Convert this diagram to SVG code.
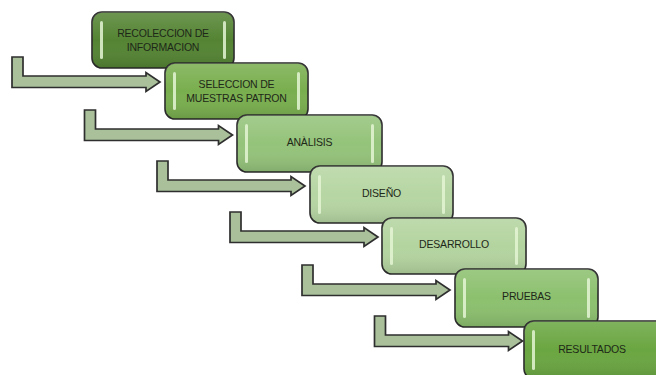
<svg xmlns="http://www.w3.org/2000/svg" width="656" height="375" viewBox="0 0 656 375">
<defs>
<linearGradient id="gloss" x1="0" y1="0" x2="0" y2="1">
<stop offset="0" stop-color="#ffffff" stop-opacity="0.15"/>
<stop offset="0.5" stop-color="#ffffff" stop-opacity="0"/>
<stop offset="1" stop-color="#000000" stop-opacity="0.12"/>
</linearGradient>
<path id="arrow" d="M12,57 H23 V76 H146 V72.5 L160,82 L146,91.5 V87.5 H12 Z"/>
</defs>
<style>
.arr{fill:#a9c09b;stroke:#2e2e2e;stroke-width:1.7;stroke-linejoin:miter}
.box{stroke:#2a2a2a;stroke-width:1.6}
.gl{fill:url(#gloss)}
.hl{fill:#e4f5d4;opacity:0.85}
.t{font-family:"Liberation Sans",Arial,sans-serif;font-size:10.5px;fill:#1e2818;text-anchor:middle;letter-spacing:-0.2px}
</style>
<g id="connectors">
<use href="#arrow" class="arr"/>
<use href="#arrow" class="arr" transform="translate(72.5,53)"/>
<use href="#arrow" class="arr" transform="translate(145,104)"/>
<use href="#arrow" class="arr" transform="translate(218,155)"/>
<use href="#arrow" class="arr" transform="translate(290,208)"/>
<use href="#arrow" class="arr" transform="translate(362.5,259)"/>
</g>
<g id="n1" transform="translate(92,12)">
<rect class="box" width="142" height="56" rx="10" fill="#548433"/>
<rect class="gl" width="142" height="56" rx="10"/>
<rect class="hl" x="8" y="9" width="3" height="38" rx="1.5"/>
<rect class="hl" x="131" y="9" width="3" height="38" rx="1.5"/>
<text class="t" x="71" y="25">RECOLECCION DE</text>
<text class="t" x="71" y="38.5">INFORMACION</text>
</g>
<g id="n2" transform="translate(165,63)">
<rect class="box" width="143" height="56" rx="10" fill="#79ae4e"/>
<rect class="gl" width="143" height="56" rx="10"/>
<rect class="hl" x="8" y="9" width="3" height="38" rx="1.5"/>
<rect class="hl" x="132" y="9" width="3" height="38" rx="1.5"/>
<text class="t" x="71.5" y="24.5">SELECCION DE</text>
<text class="t" x="71.5" y="38.5">MUESTRAS PATRON</text>
</g>
<g id="n3" transform="translate(237,115)">
<rect class="box" width="145" height="57" rx="10" fill="#94c37a"/>
<rect class="gl" width="145" height="57" rx="10"/>
<rect class="hl" x="8" y="9" width="3" height="39" rx="1.5"/>
<rect class="hl" x="134" y="9" width="3" height="39" rx="1.5"/>
<text class="t" x="72.5" y="31">ANÀLISIS</text>
</g>
<g id="n4" transform="translate(310,166)">
<rect class="box" width="143" height="57" rx="10" fill="#b6d6a3"/>
<rect class="gl" width="143" height="57" rx="10"/>
<rect class="hl" x="8" y="9" width="3" height="39" rx="1.5"/>
<rect class="hl" x="132" y="9" width="3" height="39" rx="1.5"/>
<text class="t" x="71.5" y="31">DISEÑO</text>
</g>
<g id="n5" transform="translate(382,218)">
<rect class="box" width="144" height="56" rx="10" fill="#b3d49f"/>
<rect class="gl" width="144" height="56" rx="10"/>
<rect class="hl" x="8" y="9" width="3" height="38" rx="1.5"/>
<rect class="hl" x="133" y="9" width="3" height="38" rx="1.5"/>
<text class="t" x="72" y="30">DESARROLLO</text>
</g>
<g id="n6" transform="translate(455,269)">
<rect class="box" width="143" height="58" rx="10" fill="#8cc06e"/>
<rect class="gl" width="143" height="58" rx="10"/>
<rect class="hl" x="8" y="9" width="3" height="40" rx="1.5"/>
<rect class="hl" x="132" y="9" width="3" height="40" rx="1.5"/>
<text class="t" x="71.5" y="31">PRUEBAS</text>
</g>
<g id="n7" transform="translate(524,321)">
<rect class="box" width="144" height="58" rx="10" fill="#6aa641"/>
<rect class="gl" width="144" height="58" rx="10"/>
<rect class="hl" x="8" y="9" width="3" height="40" rx="1.5"/>
<rect class="hl" x="133" y="9" width="3" height="40" rx="1.5"/>
<text class="t" x="68" y="32">RESULTADOS</text>
</g>
</svg>
